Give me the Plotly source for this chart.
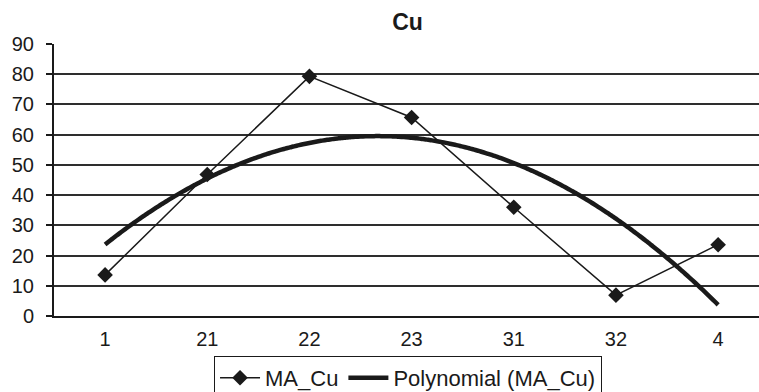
import numpy as np
import plotly.graph_objects as go

# Sample sites and measured Cu values
sites = ["1", "21", "22", "23", "31", "32", "4"]
ma_cu = [13.6, 46.8, 79.3, 65.7, 36.0, 6.9, 23.6]
y_ticks = [0, 10, 20, 30, 40, 50, 60, 70, 80, 90]

idx = np.arange(len(sites))
# Second-order polynomial trendline fitted to the series
coef = np.polyfit(idx, ma_cu, 2)
xs = np.linspace(0, len(sites) - 1, 241)
ys = np.polyval(coef, xs)

FONT = "Liberation Sans, Arial, sans-serif"
INK = "#1a1a1a"

fig = go.Figure()
fig.add_trace(go.Scatter(
    x=idx, y=ma_cu, name="MA_Cu", mode="lines+markers",
    line=dict(color=INK, width=1.5),
    marker=dict(symbol="diamond", size=12, color=INK),
))
fig.add_trace(go.Scatter(
    x=xs, y=ys, name="Polynomial (MA_Cu)", mode="lines",
    line=dict(color=INK, width=4.5, shape="spline"),
))

fig.update_layout(
    width=759, height=392,
    margin=dict(l=54, r=0, t=44, b=76, autoexpand=False),
    paper_bgcolor="white", plot_bgcolor="white",
    font=dict(family=FONT, size=20, color=INK),
    title=dict(text="<b>Cu</b>", x=0.537, xanchor="center", y=0.945, yanchor="middle",
               font=dict(family=FONT, size=23, color=INK)),
    showlegend=True,
    legend=dict(orientation="h", x=0.227, xanchor="left", y=-0.147, yanchor="top",
                bordercolor=INK, borderwidth=1, bgcolor="white",
                font=dict(family=FONT, size=22, color=INK),
                itemwidth=40, tracegroupgap=0),
)

fig.update_xaxes(
    range=[-0.5, 6.40], tickmode="array", tickvals=idx, ticktext=sites,
    showgrid=False, zeroline=False, showline=True, linecolor=INK, linewidth=2,
    ticks="", tickfont=dict(size=20), ticklabelstandoff=4,
)
fig.update_yaxes(
    range=[0, 90], tickmode="array", tickvals=y_ticks,
    showgrid=True, gridcolor="#2e2e2e", gridwidth=1.8, zeroline=False,
    showline=True, linecolor=INK, linewidth=2,
    ticks="outside", ticklen=6, tickwidth=2, tickcolor=INK,
    tickfont=dict(size=20), ticklabelstandoff=8,
)

fig.write_html("out.html")
